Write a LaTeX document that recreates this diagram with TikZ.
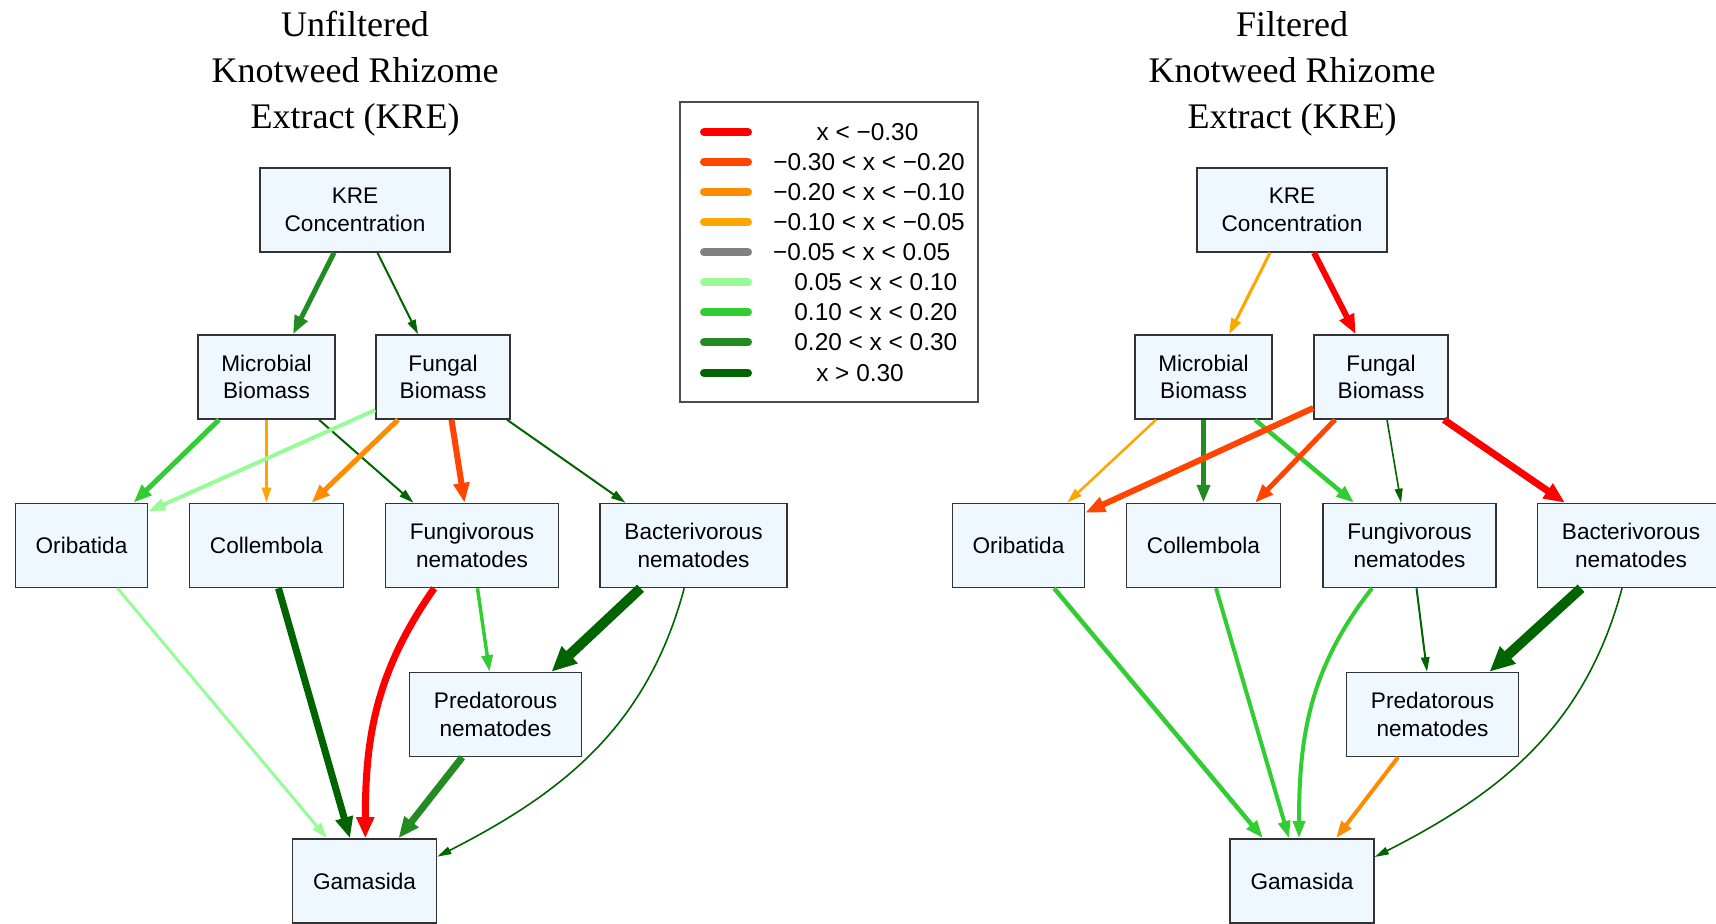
\documentclass[tikz,border=0pt]{standalone}
\usepackage{fontspec}
\setmainfont{Liberation Serif}
\setsansfont{Liberation Sans}
\usepackage{tikz}
\usetikzlibrary{arrows.meta,positioning}

\definecolor{gvred}{HTML}{FF0000}
\definecolor{gvorangered}{HTML}{FF4500}
\definecolor{gvdarkorange}{HTML}{FF8C00}
\definecolor{gvorange}{HTML}{FFA500}
\definecolor{gvgray}{HTML}{808080}
\definecolor{gvpalegreen}{HTML}{98FB98}
\definecolor{gvlimegreen}{HTML}{32CD32}
\definecolor{gvforestgreen}{HTML}{228B22}
\definecolor{gvdarkgreen}{HTML}{006400}
\definecolor{aliceblue}{HTML}{F0F8FF}

\begin{document}
\begin{tikzpicture}[node distance=84pt,on grid,
	taxon/.style={draw=black!80, fill=aliceblue, line width=0.75pt,
		minimum height=42pt, inner sep=2pt, align=center,
		font=\sffamily\fontsize{11.3}{13.7}\selectfont},
	heading/.style={align=center, font=\fontsize{18}{23}\selectfont},
	legtext/.style={inner sep=0pt, font=\sffamily\fontsize{12.2}{14}\selectfont},
	swatch/.style={line width=4pt, line cap=round},
	effect/.style={-{Triangle[length=6pt 1.3,width=2.5pt 1.7]}}]

		\useasboundingbox (0,0) rectangle (858pt,-462pt);

		% Unfiltered KRE
		\node[taxon,
			minimum width=95pt] (L-kre) at (177.5pt,-105pt) {KRE\\Concentration};
		\node[heading,
			above=68pt of L-kre] (L-title) {Unfiltered\\Knotweed Rhizome\\Extract (KRE)};
		\node[taxon,
			minimum width=68.5pt,
			below left = 83.5pt and 44.25pt of L-kre] (L-micro) {Microbial\\Biomass};
		\node[taxon,
			minimum width=67pt,
			below right = 83.5pt and 44pt of L-kre] (L-fungal) {Fungal\\Biomass};
		\node[taxon,
			minimum width=77pt,
			below = 84.25pt of L-micro] (L-coll) {Collembola};
		\node[taxon,
			minimum width=66pt,
			left = 92.5pt of L-coll] (L-orib) {Oribatida};
		\node[taxon,
			minimum width=86.5pt,
			right = 102.75pt of L-coll] (L-fungiv) {Fungivorous\\nematodes};
		\node[taxon,
			minimum width=93.5pt,
			right = 110.75pt of L-fungiv] (L-bact) {Bacterivorous\\nematodes};
		\node[taxon,
			minimum width=86pt,
			below right = 84.5pt and 11.75pt of L-fungiv] (L-pred) {Predatorous\\nematodes};
		\node[taxon,
			minimum width=72pt,
			below left = 83.25pt and 65.5pt of L-pred] (L-gam) {Gamasida};

		\draw ([xshift=-10.5pt]L-kre.south) edge[effect, gvforestgreen, line width=2.5pt] ([xshift=13.25pt]L-micro.north)
		([xshift=11.25pt]L-kre.south) edge[effect, gvdarkgreen, line width=1pt] ([xshift=-12.5pt]L-fungal.north)
		([xshift=-23.75pt]L-micro.south) edge[effect, gvlimegreen, line width=2.5pt] ([xshift=26pt]L-orib.north)
		(L-micro.south) edge[effect, gvorange, line width=1.25pt] (L-coll.north)
		([xshift=26.25pt]L-micro.south) edge[effect, gvdarkgreen, line width=1pt] ([xshift=-29.25pt]L-fungiv.north)
		([yshift=-16.5pt]L-fungal.west) edge[effect, gvpalegreen, line width=2pt] ([yshift=-4.35pt]L-orib.north east)
		([xshift=-22.5pt]L-fungal.south) edge[effect, gvdarkorange, line width=2.5pt] ([xshift=22.5pt]L-coll.north)
		([xshift=4.25pt]L-fungal.south) edge[effect, gvorangered, line width=3pt] ([xshift=-3.75pt]L-fungiv.north)
		([xshift=32pt]L-fungal.south) edge[effect, gvdarkgreen, line width=1pt] ([xshift=-34pt]L-bact.north)
		([xshift=18pt]L-orib.south) edge[effect, gvpalegreen, line width=1.5pt] ([xshift=-18.75pt]L-gam.north)
		([xshift=6pt]L-coll.south) edge[effect, gvdarkgreen, line width=3.5pt] ([xshift=-7.25pt]L-gam.north)
		([xshift=-18.9pt]L-fungiv.south) edge[effect, gvred, line width=3.5pt, out=235, in=90] ([xshift=0.4pt]L-gam.north)
		([xshift=2.75pt]L-fungiv.south) edge[effect, gvlimegreen, line width=1.75pt] ([xshift=-3pt]L-pred.north)
		([xshift=-26.5pt]L-bact.south) edge[effect, gvdarkgreen, line width=5pt] ([xshift=28pt]L-pred.north)
		([xshift=-4.65pt]L-bact.south) edge[effect, gvdarkgreen, line width=0.8pt, out=255, in=27] ([yshift=12.15pt]L-gam.east)
		([xshift=-16.65pt]L-pred.south) edge[effect, gvforestgreen, line width=3.5pt] ([xshift=17pt]L-gam.north)
		;

		% Filtered KRE
		\node[taxon,
			minimum width=95pt] (R-kre) at (646pt,-105pt) {KRE\\Concentration};
		\node[heading,
			above=68pt of R-kre] (R-title) {Filtered\\Knotweed Rhizome\\Extract (KRE)};
		\node[taxon,
			minimum width=68.5pt,
			below left = 83.5pt and 44.25pt of R-kre] (R-micro) {Microbial\\Biomass};
		\node[taxon,
			minimum width=67pt,
			below right = 83.5pt and 44.5pt of R-kre] (R-fungal) {Fungal\\Biomass};
		\node[taxon,
			minimum width=77pt,
			below = 84.25pt of R-micro] (R-coll) {Collembola};
		\node[taxon,
			minimum width=66pt,
			left = 92.5pt of R-coll] (R-orib) {Oribatida};
		\node[taxon,
			minimum width=86.5pt,
			right = 103pt of R-coll] (R-fungiv) {Fungivorous\\nematodes};
		\node[taxon,
			minimum width=93.5pt,
			right = 110.75pt of R-fungiv] (R-bact) {Bacterivorous\\nematodes};
		\node[taxon,
			minimum width=86pt,
			below right = 84.5pt and 11.5pt of R-fungiv] (R-pred) {Predatorous\\nematodes};
		\node[taxon,
			minimum width=72pt,
			below left = 83.25pt and 65.25pt of R-pred] (R-gam) {Gamasida};

		\draw ([xshift=-11pt]R-kre.south) edge[effect, gvorange, line width=1.5pt] ([xshift=12.75pt]R-micro.north)
		([xshift=11pt]R-kre.south) edge[effect, gvred, line width=3pt] ([xshift=-12.65pt]R-fungal.north)
		([xshift=-23.75pt]R-micro.south) edge[effect, gvorange, line width=1.25pt] ([xshift=24.35pt]R-orib.north)
		(R-micro.south) edge[effect, gvforestgreen, line width=2.25pt] (R-coll.north)
		([xshift=25.75pt]R-micro.south) edge[effect, gvlimegreen, line width=2.25pt] ([xshift=-27.75pt]R-fungiv.north)
		([yshift=-15.5pt]R-fungal.west) edge[effect, gvorangered, line width=3pt] ([yshift=-5pt]R-orib.north east)
		([xshift=-23pt]R-fungal.south) edge[effect, gvorangered, line width=2.5pt] ([xshift=25.75pt]R-coll.north)
		([xshift=3pt]R-fungal.south) edge[effect, gvdarkgreen, line width=0.8pt] ([xshift=-4.25pt]R-fungiv.north)
		([xshift=31.5pt]R-fungal.south) edge[effect, gvred, line width=3.5pt] ([xshift=-33pt]R-bact.north)
		([xshift=17.8pt]R-orib.south) edge[effect, gvlimegreen, line width=2.25pt] ([xshift=-19.5pt]R-gam.north)
		([xshift=6.25pt]R-coll.south) edge[effect, gvlimegreen, line width=2pt] ([xshift=-6.5pt]R-gam.north)
		([xshift=-18.75pt]R-fungiv.south) edge[effect, gvlimegreen, line width=2pt, out=232, in=90] ([xshift=-1.5pt]R-gam.north)
		([xshift=3.5pt]R-fungiv.south) edge[effect, gvdarkgreen, line width=1pt] ([xshift=-2.75pt]R-pred.north)
		([xshift=-25pt]R-bact.south) edge[effect, gvdarkgreen, line width=5pt] ([xshift=28.5pt]R-pred.north)
		([xshift=-4.5pt]R-bact.south) edge[effect, gvdarkgreen, line width=0.8pt, out=255, in=27] ([yshift=12pt]R-gam.east)
		([xshift=-17.25pt]R-pred.south) edge[effect, gvdarkorange, line width=2pt] ([xshift=17pt]R-gam.north)
		;

		% Legend
		\node[draw=black!70, line width=0.75pt,
			minimum width=149pt, minimum height=150pt] (legend) at (414.5pt,-126pt) {};
		\draw[swatch, gvred] (352pt,-66.15pt) -- (374pt,-66.15pt);
		\draw[swatch, gvorangered] (352pt,-80.85pt) -- (374pt,-80.85pt);
		\draw[swatch, gvdarkorange] (352pt,-95.85pt) -- (374pt,-95.85pt);
		\draw[swatch, gvorange] (352pt,-110.85pt) -- (374pt,-110.85pt);
		\draw[swatch, gvgray] (352pt,-126.15pt) -- (374pt,-126.15pt);
		\draw[swatch, gvpalegreen] (352pt,-141.15pt) -- (374pt,-141.15pt);
		\draw[swatch, gvlimegreen] (352pt,-156.15pt) -- (374pt,-156.15pt);
		\draw[swatch, gvforestgreen] (352pt,-171.15pt) -- (374pt,-171.15pt);
		\draw[swatch, gvdarkgreen] (352pt,-186.5pt) -- (374pt,-186.5pt);
		\node[legtext] (leg1) at (433.75pt,-66.15pt) {x < −0.30};
		\node[legtext] (leg2) at (434.5pt,-80.85pt) {−0.30 < x < −0.20};
		\node[legtext] (leg3) at (434.5pt,-95.85pt) {−0.20 < x < −0.10};
		\node[legtext] (leg4) at (434.5pt,-110.85pt) {−0.10 < x < −0.05};
		\node[legtext] (leg5) at (430.85pt,-126.15pt) {−0.05 < x < 0.05};
		\node[legtext] (leg6) at (437.9pt,-141.15pt) {0.05 < x < 0.10};
		\node[legtext] (leg7) at (437.9pt,-156.15pt) {0.10 < x < 0.20};
		\node[legtext] (leg8) at (437.9pt,-171.15pt) {0.20 < x < 0.30};
		\node[legtext] (leg9) at (430pt,-186.5pt) {x > 0.30};
	\end{tikzpicture}
\end{document}
